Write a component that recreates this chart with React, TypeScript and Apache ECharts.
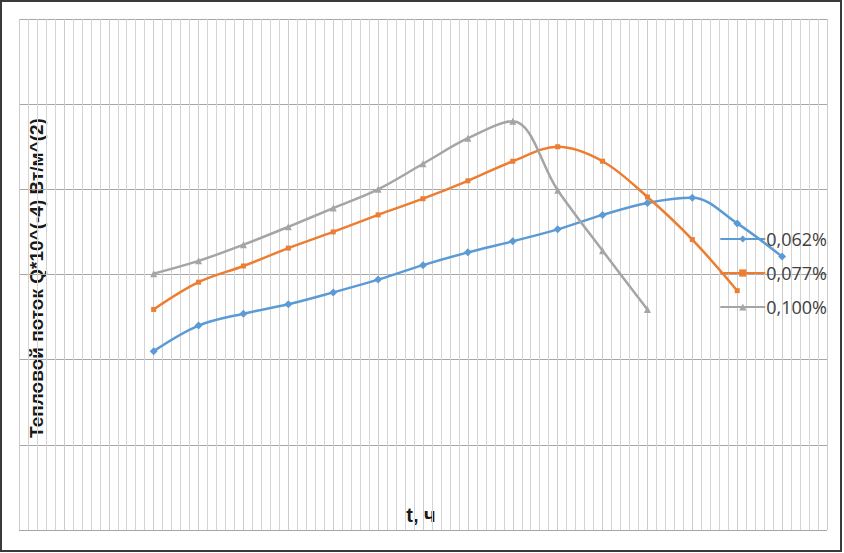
import React, { useEffect, useRef } from "react";
import * as echarts from "echarts";

const hours = [3, 4, 5, 6, 7, 8, 9, 10, 11, 12, 13, 14, 15, 16, 17];
const seriesNames = ["0,062%", "0,077%", "0,100%"];
const q062 = [21.0, 24.0, 25.4, 26.5, 27.9, 29.4, 31.1, 32.6, 33.9, 35.3, 37.0, 38.4, 39.0, 36.0, 32.1];
const q077 = [25.9, 29.1, 31.0, 33.1, 35.0, 37.0, 38.9, 41.0, 43.3, 45.0, 43.3, 39.1, 34.1, 28.1];
const q100 = [30.1, 31.6, 33.5, 35.6, 37.8, 40.0, 43.0, 46.0, 48.0, 39.9, 32.8, 25.9];
const colors = ["#5B9BD5", "#ED7D31", "#A5A5A5"];
const symbols = ["diamond", "rect", "triangle"];
const symbolSizes = [8, 5, 7];

export default function App() {
  const ref = useRef<HTMLDivElement>(null);
  useEffect(() => {
    if (!ref.current) return;
    const chart = echarts.init(ref.current, null, { renderer: "svg" });
    const all = [q062, q077, q100];
    chart.setOption({
      animation: false,
      backgroundColor: "#ffffff",
      grid: { left: 19, right: 17, top: 19, bottom: 23, containLabel: false },
      xAxis: {
        type: "value",
        min: 0,
        max: 18,
        interval: 1,
        axisLine: { show: false },
        axisTick: { show: false },
        axisLabel: { show: false },
        splitLine: { show: true, lineStyle: { color: "#cccccc", width: 1 } },
        minorTick: { show: false, splitNumber: 5 },
        minorSplitLine: { show: true, lineStyle: { color: "#d4d4d4", width: 1 } },
      },
      yAxis: {
        type: "value",
        min: 0,
        max: 60,
        interval: 10,
        axisLine: { show: false },
        axisTick: { show: false },
        axisLabel: { show: false },
        splitLine: { show: true, lineStyle: { color: "#a6a6a6", width: 1 } },
      },
      legend: {
        orient: "vertical",
        right: 12,
        top: 225,
        itemWidth: 45,
        itemHeight: 9,
        itemGap: 16,
        textStyle: { fontFamily: "Open Sans", fontSize: 18, color: "#404040", padding: [0, 0, 0, -4] },
        data: seriesNames,
      },
      series: all.map((arr, i) => ({
        name: seriesNames[i],
        type: "line",
        smooth: 0.35,
        data: arr.map((v, j) => [hours[j], v]),
        symbol: symbols[i],
        symbolSize: symbolSizes[i],
        showSymbol: true,
        lineStyle: { color: colors[i], width: 2.5 },
        itemStyle: { color: colors[i] },
      })),
      graphic: [
        {
          type: "rect",
          shape: { x: 1, y: 1, width: 840, height: 550 },
          style: { fill: "none", stroke: "#3a3a3a", lineWidth: 2 },
          silent: true,
        },
        {
          type: "text",
          x: 36,
          y: 278,
          rotation: Math.PI / 2,
          style: {
            text: "Тепловой поток Q*10^(-4) Вт/м^(2)",
            font: "bold 19px 'Liberation Sans'",
            fill: "#1a1a1a",
            align: "center",
            verticalAlign: "middle",
          },
        },
        {
          type: "text",
          x: 421,
          y: 515,
          style: {
            text: "t, ч",
            font: "bold 20px 'Liberation Sans'",
            fill: "#1a1a1a",
            align: "center",
            verticalAlign: "middle",
          },
        },
      ],
    });
    return () => chart.dispose();
  }, []);
  return (
    <div
      ref={ref}
      style={{ position: "fixed", left: 0, top: 0, width: 844, height: 553 }}
    />
  );
}
